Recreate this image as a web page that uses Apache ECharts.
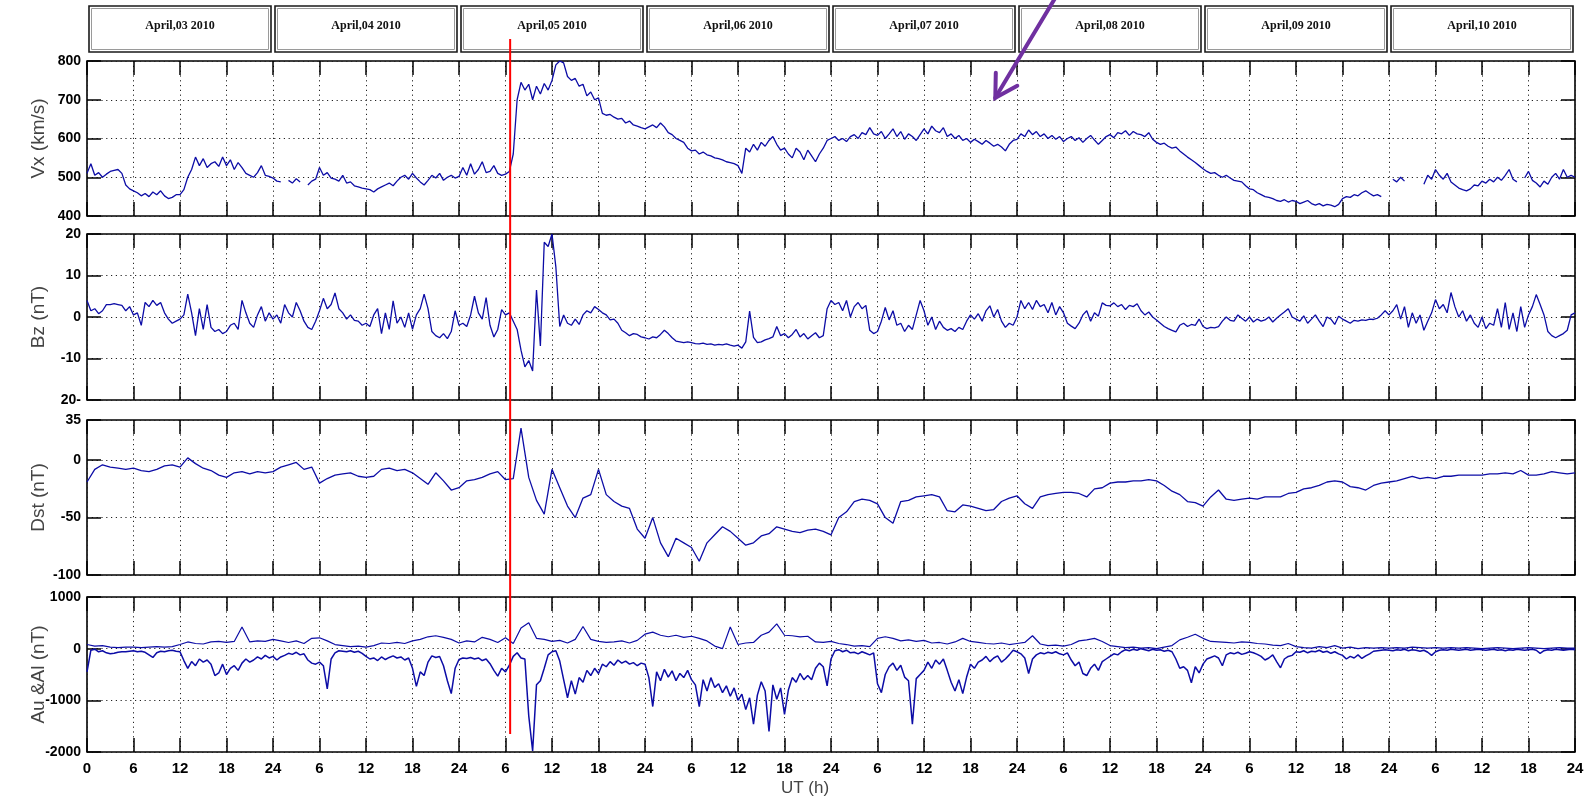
<!DOCTYPE html>
<html>
<head>
<meta charset="utf-8">
<script src="https://cdn.jsdelivr.net/npm/echarts@6/dist/echarts.min.js"></script>
<style>
html,body{margin:0;padding:0;background:#ffffff;}
#chart{width:1591px;height:796px;}
</style>
</head>
<body>
<div id="chart"></div>
<script>
// ---------------- DATA ----------------
const dayLabels = ['April,03 2010','April,04 2010','April,05 2010','April,06 2010','April,07 2010','April,08 2010','April,09 2010','April,10 2010'];
const hourTickLabels = ['0','6','12','18','24','6','12','18','24','6','12','18','24','6','12','18','24','6','12','18','24','6','12','18','24','6','12','18','24','6','12','18','24'];
const panelNames = ['Vx (km/s)','Bz (nT)','Dst (nT)','Au &Al (nT)'];
const xTitle = 'UT (h)';
const shockHour = 54.6;           // red vertical line (April 05, ~06:36 UT)
const arrowTip = [117.2, 705];    // purple arrow tip (hour, Vx)

// Solar wind speed Vx (km/s), every 30 min from 0 h to 192 h
const vx = [
510,535,505,512,500,508,515,518,520,510,480,470,465,460,452,458,450,462,455,465,452,445,448,455,455,468,500,520,552,530,548,525,535,540,528,552,530,545,520,538,525,510,505,500,512,530,505,502,
498,490,488,null,492,485,496,488,null,480,490,495,525,505,512,498,495,490,505,485,488,478,475,472,470,468,462,470,475,480,485,478,490,500,505,495,510,498,488,480,492,505,498,510,492,500,505,498,
502,525,505,535,508,520,540,512,515,530,510,505,508,515,560,700,745,725,740,700,735,715,742,725,750,790,800,795,760,750,755,735,740,710,720,700,705,665,660,662,655,650,652,640,645,635,632,628,
625,630,635,628,640,630,615,610,600,595,590,575,568,570,560,565,558,555,550,548,545,540,538,535,530,510,575,565,585,570,590,580,595,605,585,570,575,560,550,575,565,545,570,555,540,560,575,595,
600,605,595,600,592,605,610,600,615,610,628,612,608,618,600,612,625,605,618,598,612,605,595,610,625,612,632,620,615,628,605,612,600,608,595,600,590,598,592,585,595,588,580,585,578,568,585,595,
598,612,605,622,610,618,605,612,600,608,598,605,592,600,605,595,602,590,600,608,596,585,595,605,610,602,615,612,620,608,618,612,610,605,615,598,590,585,588,580,575,578,568,560,552,545,538,530,
522,515,510,512,505,500,505,498,492,490,488,478,470,468,460,455,450,448,445,440,438,442,436,440,438,432,436,440,432,428,432,426,430,428,424,430,445,450,448,455,452,460,465,458,452,455,450,null,
null,495,488,500,490,null,null,470,null,482,505,495,520,505,495,510,488,480,472,468,465,470,480,478,490,485,495,488,500,492,505,520,495,488,null,498,515,492,485,475,490,482,500,510,495,520,500,505,
500
];

// IMF Bz (nT), every 30 min
const bz = [
4,1.5,2,0.8,1.5,3,3,3.2,3,2.8,1.5,2.5,0.5,1,-2,3.5,2.5,4,2.8,3.5,1,-0.5,-1.5,-1,-0.5,0.5,5.5,1,-4.5,2,-3,3,-2.5,-3.5,-3,-4,-3.5,-2,-1.5,-3,4,1,-1.5,-2.5,0.5,2.5,-1,1,
-0.5,0.5,-1.5,3,1,0,3.5,1.5,-1,-2.5,-3,-1,1.5,4.5,2,3,5.8,2,1,-0.5,0.5,-0.8,-1,-2,-1.5,-2.3,0.5,2,-4,1,-3,3.9,-1.5,0,-2.5,1,-3,0.5,2,5.5,2,-3.5,-4.5,-5,-4,-5.2,-3.5,1.5,
-2,-1.5,-2.3,0.5,5,1,-0.5,4.7,-2,-4.8,-3,1.8,0.5,1,-1,-3,-8,-12,-10.5,-13,6.5,-7,18,17,20,12,-2.3,0.5,-1.5,-2,-0.5,-1.8,0.5,1.5,1,2.5,1.8,1,0.5,-0.7,-0.5,-1.5,-3.2,-3.8,-4.5,-4,-4.2,-4.8,
-5,-5.3,-4.8,-5,-4.2,-3.2,-4,-5,-5.8,-6,-6.2,-6,-6.2,-6.4,-6.5,-6.3,-6.6,-6.5,-6.8,-6.6,-6.7,-6.5,-6.8,-7,-6.8,-7.5,-6,1.4,-4.9,-6.2,-6,-5.5,-5.2,-4.8,-2.3,-4.5,-4,-5,-4.2,-3,-4.8,-4,-5.3,-4.5,-3.8,-5,-4.5,2,
4,3,3.5,1.5,4,0,2.5,3.5,2,2.8,-3.2,-4,-3.5,-1,2.3,-0.7,1.5,-2,-1.5,-3.5,-2,-3,0.5,4,1.5,-2,0,-3,-1,-2.5,-3.2,-2.8,-3.5,-2.5,-3,-1,0.5,-0.5,0.8,-1,1.5,2.7,0,1.8,-1,-2.5,-1.5,-2,
0,4,2,3.5,1.8,4,2.5,3,1,3.5,0.5,2.5,1,-1.5,-2.2,-2.8,-1.5,0.5,1.5,-1,1,0.2,3.4,2.8,2.7,3.4,2.5,3,1.8,2.8,2.5,3.2,1.5,0.5,1.2,0,-0.7,-1.5,-2.3,-2.8,-3.2,-3.6,-2,-1.5,-2.3,-1.8,-2,-0.5,
-2.3,-2.8,-2.5,-2.6,-2.3,-1,0,-0.8,-1,0.5,-0.3,-1,0,-1.2,-0.5,-1,-0.7,0,-1.2,-0.3,0.5,1.2,2,0,-0.5,-1,0.3,-1.5,-0.5,0.5,-1,-2.3,0,-0.5,-1.8,0.2,-0.5,-1,-1.5,-0.8,-1,-0.7,-0.8,-0.5,-0.6,-0.3,0.5,1.5,
0.5,1.5,3,-0.5,2.5,-2.5,1,-1.5,0.5,-3.2,-1,1,4.2,2,3,1,5.9,2.5,0,1.5,-1,0.5,-1.5,-2.5,0,-2.8,-1.5,-2,2,-2.5,3.5,-3,1,-3.5,2.5,-2.5,0.5,2.5,5.4,3,0.5,-3.5,-4.5,-5,-4.5,-4,-3.2,0.5,
1
];

// Dst (nT), hourly
const dst = [
-19,-8,-4,-6,-7,-8,-7,-9,-10,-8,-5,-4,-6,2,-3,-7,-9,-13,-15,-11,-10,-12,-10,-11,
-10,-6,-4,-2,-8,-6,-20,-16,-13,-12,-11,-14,-15,-14,-8,-7,-9,-8,-11,-16,-21,-11,-18,-26,
-24,-18,-17,-15,-12,-10,-17,-16,28,-15,-35,-47,-8,-24,-40,-50,-33,-30,-8,-30,-36,-40,-42,-60,
-68,-50,-72,-84,-68,-72,-76,-88,-72,-65,-58,-62,-68,-74,-72,-66,-64,-58,-60,-62,-63,-61,-60,-62,
-65,-50,-45,-36,-34,-35,-38,-50,-55,-36,-35,-32,-31,-30,-32,-44,-45,-39,-40,-42,-44,-43,-36,-33,
-31,-38,-42,-32,-30,-29,-28,-28,-29,-32,-25,-24,-20,-19,-19,-18,-18,-17,-18,-22,-27,-30,-36,-37,
-40,-32,-26,-34,-35,-34,-33,-34,-32,-32,-32,-29,-28,-25,-24,-22,-19,-18,-19,-23,-24,-26,-22,-20,
-19,-18,-16,-14,-16,-15,-16,-14,-14,-13,-13,-13,-13,-12,-12,-11,-12,-9,-13,-13,-12,-10,-11,-12,
-11
];

// AU index (nT), hourly
const au = [
80,50,60,30,20,30,30,20,30,40,30,40,80,130,100,90,130,140,120,140,420,130,150,140,
180,150,120,150,100,200,210,150,80,60,40,50,30,60,110,100,120,100,150,180,230,250,220,180,
110,150,130,220,180,120,210,100,400,500,200,180,140,160,110,180,430,180,140,120,130,150,110,160,
280,320,260,230,260,220,240,200,150,50,0,420,80,110,120,260,320,480,260,250,230,240,130,120,
140,100,80,50,60,40,200,230,200,150,170,140,160,110,120,90,130,200,140,120,100,90,110,80,
100,120,250,90,60,70,50,80,150,170,200,140,60,40,20,30,10,20,0,30,60,170,220,280,
200,140,130,120,110,130,120,100,90,70,60,100,40,20,10,40,20,60,10,30,0,20,10,20,
10,20,10,30,20,10,20,10,20,10,20,10,0,10,20,10,0,10,20,10,0,10,20,10,
10
];

// AL index (nT), every 30 min
const al = [
-450,-30,-10,-60,-40,-80,-100,-90,-70,-60,-60,-50,-40,-60,-50,-70,-120,-170,-80,-50,-60,-40,-30,-50,-60,-230,-380,-250,-330,-200,-260,-220,-300,-520,-470,-300,-500,-380,-330,-420,-280,-200,-260,-220,-160,-200,-130,-180,
-150,-220,-160,-130,-90,-110,-70,-120,-100,-220,-280,-300,-260,-330,-780,-200,-80,-40,-50,-60,-40,-70,-50,-90,-150,-200,-180,-230,-160,-210,-170,-140,-180,-160,-220,-180,-380,-730,-450,-520,-260,-140,-170,-150,-330,-620,-870,-380,
-210,-180,-190,-170,-200,-180,-230,-200,-290,-420,-530,-380,-450,-320,-150,-80,-180,-200,-1300,-1980,-700,-620,-380,-120,-60,-40,-240,-600,-950,-620,-880,-560,-650,-420,-520,-380,-480,-300,-350,-250,-320,-220,-280,-240,-300,-270,-330,-280,
-300,-560,-1120,-450,-620,-400,-550,-430,-620,-480,-560,-420,-600,-700,-1120,-600,-820,-560,-750,-680,-850,-720,-920,-760,-1000,-880,-1180,-950,-1460,-900,-640,-820,-1600,-700,-980,-760,-1270,-800,-560,-650,-480,-600,-520,-600,-380,-280,-350,-720,
-200,-40,-20,-60,-30,-80,-70,-100,-60,-90,-120,-80,-680,-850,-500,-350,-280,-420,-320,-550,-620,-1460,-580,-500,-420,-260,-380,-220,-300,-200,-420,-650,-820,-600,-870,-550,-300,-380,-260,-220,-150,-250,-180,-140,-260,-200,-120,-30,
-60,-100,-180,-480,-200,-120,-80,-100,-70,-90,-60,-100,-120,-80,-220,-330,-260,-480,-520,-380,-300,-420,-250,-200,-150,-100,-120,-60,-20,-40,-10,-30,0,-20,-40,-10,-30,-20,-50,-30,-60,-200,-380,-350,-420,-660,-350,-470,
-300,-200,-170,-140,-180,-330,-120,-80,-100,-70,-110,-90,-60,-80,-110,-150,-220,-180,-120,-250,-370,-200,-150,-130,-60,-70,-40,-80,-50,-60,-30,-70,-50,-90,-60,-100,-130,-200,-150,-180,-120,-190,-140,-100,-50,-40,-30,-20,
-30,-40,-20,-30,-10,-40,-20,-30,-50,-30,-70,-130,-60,-30,-20,-30,-10,-20,-30,-20,-10,-30,-20,-10,-20,-30,-20,-10,-30,-20,-40,-20,-30,-10,-20,-30,-20,-10,-30,-90,-40,-20,-30,-10,-20,-30,-20,-10,
-20
];

// ---------------- CHART ----------------
function toPairs(arr, step) { return arr.map(function (v, i) { return [i * step, v]; }); }

const LEFT = 87, WIDTH = 1488;
const panels = [
  { top: 61,  height: 155, min: 400,   max: 800,  interval: 100 },
  { top: 234, height: 166, min: -20,   max: 20,   interval: 10 },
  { top: 420, height: 155, min: -100,  max: 35,   interval: 50 },
  { top: 597, height: 155, min: -2000, max: 1000, interval: 1000 }
];
const LINE = '#0c0ca6';
const tickStyle = { color: '#000', width: 1.5 };
const dotted = { color: '#222', type: [1.2, 3.6], width: 1 };

const grids = [], xAxes = [], yAxes = [];
panels.forEach(function (p, i) {
  grids.push({ left: LEFT, width: WIDTH, top: p.top, height: p.height, show: true,
    borderColor: '#000', borderWidth: 1.6, backgroundColor: 'transparent',
    containLabel: false, outerBoundsMode: 'none' });
});
// bottom x axes (0..3)
panels.forEach(function (p, i) {
  const last = i === 3;
  xAxes.push({
    type: 'value', gridIndex: i, min: 0, max: 192, interval: 6, position: 'bottom',
    axisLine: { show: false, onZero: false },
    axisTick: { show: true, inside: true, length: 14, lineStyle: tickStyle },
    splitLine: { show: true, lineStyle: dotted },
    axisLabel: { show: last, interval: 0, showMinLabel: true, showMaxLabel: true, hideOverlap: false,
      color: '#000', fontWeight: 'bold', fontSize: 15, fontFamily: 'Liberation Sans', margin: 9,
      formatter: function (v) { return hourTickLabels[Math.round(v / 6)]; } },
    name: last ? xTitle : '', nameLocation: 'middle', nameGap: 28, nameMoveOverlap: false,
    nameTextStyle: { fontSize: 17, color: '#444', fontFamily: 'Liberation Sans', padding: [0, 52, 0, 0] }
  });
});
// top x axes (4..7) for the ticks on the upper frame
panels.forEach(function (p, i) {
  xAxes.push({
    type: 'value', gridIndex: i, min: 0, max: 192, interval: 6, position: 'top',
    axisLine: { show: false, onZero: false }, axisLabel: { show: false }, splitLine: { show: false },
    axisTick: { show: true, inside: true, length: 14, lineStyle: tickStyle }
  });
});
// left y axes (0..3)
panels.forEach(function (p, i) {
  yAxes.push({
    type: 'value', gridIndex: i, min: p.min, max: p.max, interval: p.interval, position: 'left',
    axisLine: { show: false, onZero: false },
    axisTick: { show: true, inside: true, length: 14, lineStyle: tickStyle },
    splitLine: { show: true, lineStyle: dotted },
    axisLabel: { color: '#000', fontWeight: 'bold', fontSize: 14, fontFamily: 'Liberation Sans', margin: 6,
      showMinLabel: true, showMaxLabel: true,
      formatter: function (v) { return (i === 1 && v === -20) ? '20-' : String(v); } },
    name: panelNames[i], nameLocation: 'middle', nameRotate: 90, nameGap: 39, nameMoveOverlap: false,
    nameTextStyle: { fontSize: 19, color: '#444', fontFamily: 'Liberation Sans' }
  });
});
// right y axes (4..7) for the ticks on the right frame
panels.forEach(function (p, i) {
  yAxes.push({
    type: 'value', gridIndex: i, min: p.min, max: p.max, interval: p.interval, position: 'right',
    axisLine: { show: false, onZero: false }, axisLabel: { show: false }, splitLine: { show: false },
    axisTick: { show: true, inside: true, length: 14, lineStyle: tickStyle }
  });
});

function lineSeries(name, data, idx, width) {
  return { name: name, type: 'line', xAxisIndex: idx, yAxisIndex: idx, data: data,
    showSymbol: false, symbol: 'none', connectNulls: false, animation: false, z: 5,
    lineStyle: { color: LINE, width: width }, itemStyle: { color: LINE } };
}

const chart = echarts.init(document.getElementById('chart'), null, { renderer: 'canvas' });
chart.setOption({
  animation: false,
  backgroundColor: '#ffffff',
  textStyle: { fontFamily: 'Liberation Sans' },
  grid: grids, xAxis: xAxes, yAxis: yAxes,
  series: [
    lineSeries('Vx', toPairs(vx, 0.5), 0, 1.3),
    lineSeries('Bz', toPairs(bz, 0.5), 1, 1.3),
    lineSeries('Dst', toPairs(dst, 1), 2, 1.3),
    lineSeries('AU', toPairs(au, 1), 3, 1.2),
    lineSeries('AL', toPairs(al, 0.5), 3, 1.5)
  ]
});

// ---------------- ANNOTATIONS ----------------
const gfx = [];
const px = function (h) { return chart.convertToPixel({ xAxisIndex: 0 }, h); };
dayLabels.forEach(function (lab, d) {
  const x0 = px(d * 24) + 2, x1 = px((d + 1) * 24) - 2;
  gfx.push({ type: 'rect', shape: { x: x0, y: 6, width: x1 - x0, height: 46 },
    style: { fill: '#fff', stroke: '#1a1a1a', lineWidth: 1.6 }, z: 10 });
  gfx.push({ type: 'rect', shape: { x: x0 + 2.5, y: 8.5, width: x1 - x0 - 5, height: 41 },
    style: { fill: 'none', stroke: '#9a9a9a', lineWidth: 1 }, z: 10 });
  gfx.push({ type: 'text', x: (x0 + x1) / 2, y: 26,
    style: { text: lab, fill: '#111', font: 'bold 12px "Liberation Serif", serif', align: 'center', verticalAlign: 'middle' }, z: 11 });
});
const rx = px(shockHour);
const rTop = chart.convertToPixel({ yAxisIndex: 0 }, 857);
const rBot = chart.convertToPixel({ yAxisIndex: 3 }, -1650);
gfx.push({ type: 'line', shape: { x1: rx, y1: rTop, x2: rx, y2: rBot },
  style: { stroke: '#ff0000', lineWidth: 2 }, z: 50 });
const tip = chart.convertToPixel({ xAxisIndex: 0, yAxisIndex: 0 }, arrowTip);
gfx.push({ type: 'line', shape: { x1: tip[0], y1: tip[1], x2: tip[0] + 60, y2: tip[1] - 100 },
  style: { stroke: '#7030a0', lineWidth: 4, lineCap: 'round' }, z: 60 });
gfx.push({ type: 'polyline', shape: { points: [[tip[0] + 0.5, tip[1] - 25], [tip[0], tip[1]], [tip[0] + 22, tip[1] - 12]] },
  style: { stroke: '#7030a0', lineWidth: 4, lineCap: 'round', lineJoin: 'miter', fill: 'none' }, z: 60 });
chart.setOption({ graphic: gfx });
</script>
</body>
</html>
